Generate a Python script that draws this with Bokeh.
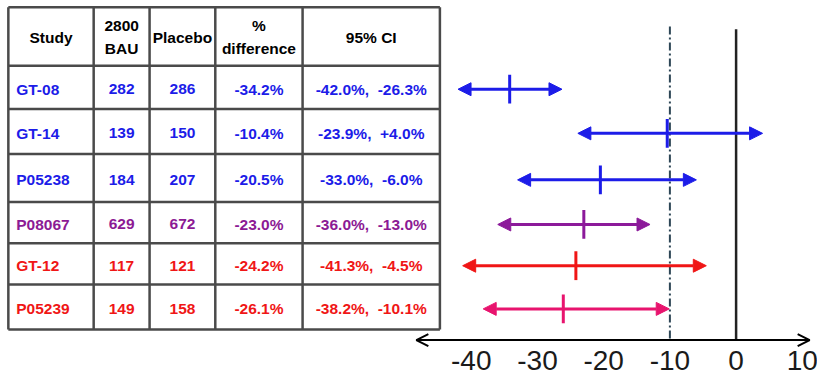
from bokeh.plotting import figure
from bokeh.models import Range1d, Arrow, NormalHead, OpenHead
from bokeh.core.properties import value
from bokeh.embed import file_html
from bokeh.resources import INLINE

# ---------------- data ----------------
studies = ["GT-08", "GT-14", "P05238", "P08067", "GT-12", "P05239"]
n_bau = [282, 139, 184, 629, 117, 149]
n_placebo = [286, 150, 207, 672, 121, 158]
pct_diff = [-34.2, -10.4, -20.5, -23.0, -24.2, -26.1]
ci_low = [-42.0, -23.9, -33.0, -36.0, -41.3, -38.2]
ci_high = [-26.3, 4.0, -6.0, -13.0, -4.5, -10.1]
x_ticks = [-40, -30, -20, -10, 0, 10]
null_value = 0
ref_value = -10
header_labels = ["Study", "2800\nBAU", "Placebo", "%\ndifference", "95% CI"]

text_colors = ["#1c1ce8", "#1c1ce8", "#1c1ce8", "#8c1a94", "#f01616", "#f01616"]
arrow_colors = ["#1c1ce8", "#1c1ce8", "#1c1ce8", "#8c1a9a", "#f01616", "#e8146e"]

# ---------------- layout (reference px, 833 x 392 canvas mapped into figure) ----------------
W, H = 817, 376
REF_W, REF_H = 833, 392
X0_PX, PX_PER_UNIT = 750.0, 6.75
xmin = (0 - X0_PX) / PX_PER_UNIT
xmax = (REF_W - X0_PX) / PX_PER_UNIT

col_edges = [8, 95, 152, 219, 308, 448]
row_edges = [7, 68, 113, 160, 210, 253, 296, 343]
row_centers = [(row_edges[i + 1] + row_edges[i + 2]) / 2 + 2 for i in range(len(studies))]
col_centers = [(col_edges[i] + col_edges[i + 1]) / 2 for i in range(len(col_edges) - 1)]

p = figure(width=W, height=H, x_range=Range1d(xmin, xmax), y_range=Range1d(REF_H, 0),
           output_backend="svg", toolbar_location=None, min_border=0,
           x_axis_location=None, y_axis_location=None)
p.grid.visible = False
p.outline_line_color = None
p.background_fill_color = "white"
p.extra_x_ranges = {"px": Range1d(0, REF_W)}

FONT = value("Liberation Sans")
FS = "15.5px"

# ---------------- table ----------------
p.segment(x0=col_edges, y0=[row_edges[0]] * len(col_edges), x1=col_edges,
          y1=[row_edges[-1]] * len(col_edges), x_range_name="px",
          line_color="#4a4a4a", line_width=2.5)
p.segment(x0=[col_edges[0]] * len(row_edges), y0=row_edges, x1=[col_edges[-1]] * len(row_edges),
          y1=row_edges, x_range_name="px", line_color="#4a4a4a", line_width=2.5)

hdr_x, hdr_y, hdr_t = [], [], []
hdr_mid = (row_edges[0] + row_edges[1]) / 2 + 1
for cx, lab in zip(col_centers, header_labels):
    parts = lab.split("\n")
    if len(parts) == 1:
        hdr_x.append(cx); hdr_y.append(hdr_mid); hdr_t.append(parts[0])
    else:
        hdr_x += [cx, cx]; hdr_y += [hdr_mid - 12, hdr_mid + 12]; hdr_t += parts
p.text(x=hdr_x, y=hdr_y, text=hdr_t, x_range_name="px", text_align="center",
       text_baseline="middle", text_font=FONT, text_font_style="bold",
       text_font_size=FS, text_color="black")

# study names (left aligned)
p.text(x=[16] * len(studies), y=row_centers, text=studies, x_range_name="px",
       text_align="left", text_baseline="middle", text_font=FONT, text_font_style="bold",
       text_font_size=FS, text_color=text_colors)

cells = [
    [str(v) for v in n_bau],
    [str(v) for v in n_placebo],
    [f"{v:.1f}%" for v in pct_diff],
    [f"{lo:.1f}%,\u00a0 {hi:+.1f}%" for lo, hi in zip(ci_low, ci_high)],
]
for ci, col in enumerate(cells):
    p.text(x=[col_centers[ci + 1]] * len(col), y=row_centers, text=col, x_range_name="px",
           text_align="center", text_baseline="middle", text_font=FONT,
           text_font_style="bold", text_font_size=FS, text_color=text_colors)

# ---------------- forest plot ----------------
AXIS_Y = 354
p.segment(x0=[ref_value], y0=[27], x1=[ref_value], y1=[AXIS_Y], line_color="#2d4656",
          line_width=2, line_dash="8 3 2 3")
p.segment(x0=[null_value], y0=[30], x1=[null_value], y1=[AXIS_Y], line_color="#222222",
          line_width=2.5)

for i in range(len(studies)):
    c = arrow_colors[i]
    p.add_layout(Arrow(start=NormalHead(size=13, fill_color=c, line_color=c, line_width=1),
                       end=NormalHead(size=13, fill_color=c, line_color=c, line_width=1),
                       x_start=ci_low[i], y_start=row_centers[i], x_end=ci_high[i],
                       y_end=row_centers[i], line_color=c, line_width=3))
p.segment(x0=pct_diff, y0=[y - 15 for y in row_centers], x1=pct_diff,
          y1=[y + 15 for y in row_centers], line_color=arrow_colors, line_width=3)

# horizontal axis with open arrowheads
p.add_layout(Arrow(start=OpenHead(size=12, line_color="black", line_width=2),
                   end=OpenHead(size=12, line_color="black", line_width=2),
                   x_start=424, y_start=AXIS_Y, x_end=825, y_end=AXIS_Y,
                   x_range_name="px", line_color="black", line_width=2))
p.text(x=x_ticks, y=[375] * len(x_ticks), text=[str(t) for t in x_ticks],
       text_align="center", text_baseline="middle", text_font=FONT,
       text_font_size="28px", text_color="#1a1a1a")

open("out.html", "w").write(file_html(p, INLINE))
